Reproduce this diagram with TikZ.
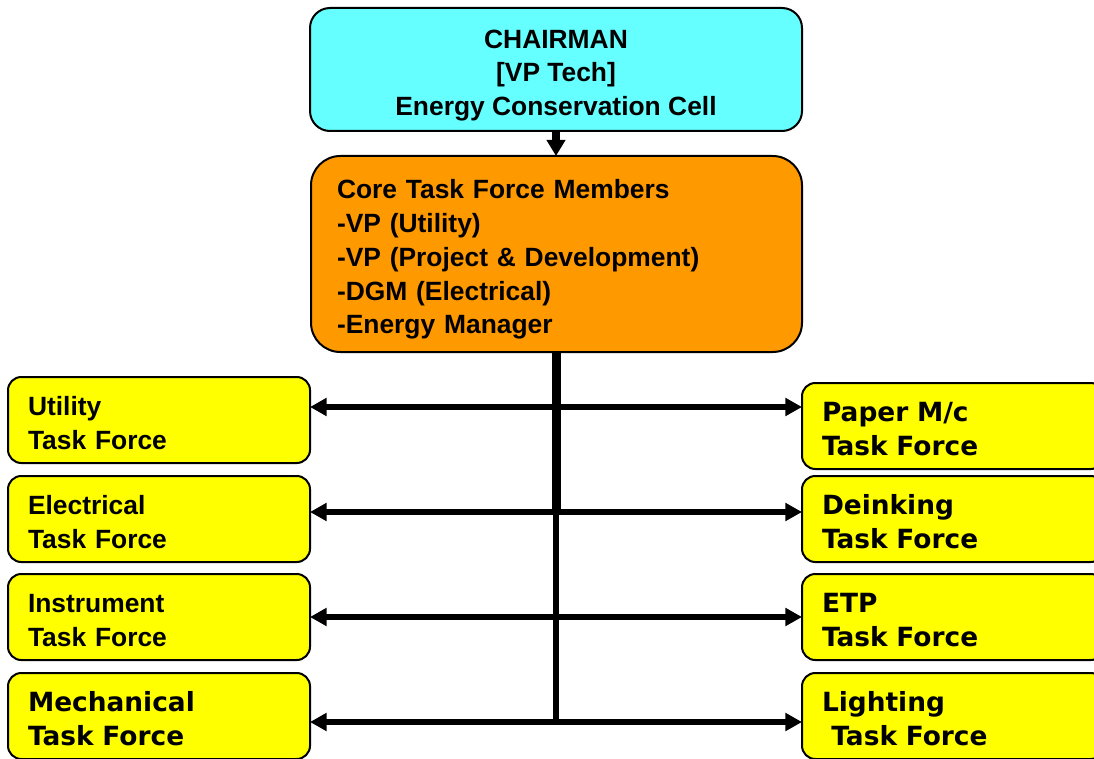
\documentclass[tikz,border=0pt]{standalone}
\usepackage{fontspec}
\setmainfont{Liberation Sans}
\newfontfamily\dvfont{DejaVu Sans}
\usetikzlibrary{arrows.meta}
\definecolor{cellcyan}{HTML}{66FFFF}
\definecolor{coreorange}{HTML}{FF9900}
\definecolor{tfyellow}{HTML}{FFFF00}
\newcommand{\myTopStrut}{\rule{0pt}{23.25pt}}
\newcommand{\myBotStrut}{\rule[-4.9pt]{0pt}{0pt}}
\begin{document}
\begin{tikzpicture}[x=0.75pt,y=-0.75pt,
  basebox/.style={draw=black, line width=1.5pt, outer sep=0pt, inner ysep=0pt, anchor=north west},
  arialtext/.style={font=\fontsize{19.8}{25.7}\selectfont\bfseries},
  dvtext/.style={font=\dvfont\fontsize{19.8}{25.7}\selectfont\bfseries},
  headbox/.style={basebox, fill=cellcyan, rounded corners=15pt, minimum width=369pt,
    minimum height=92.25pt, align=center, font=\fontsize{19.8}{25}\selectfont\bfseries},
  corebox/.style={basebox, arialtext, fill=coreorange, rounded corners=22pt, text width=329.25pt,
    inner xsep=19.5pt, minimum height=147pt, align=left, font=\fontsize{19.8}{25.4}\selectfont\bfseries},
  tfbox/.style={basebox, fill=tfyellow, rounded corners=10pt, text width=196.5pt,
    inner xsep=15pt, minimum height=64.5pt, align=left},
  link/.style={line width=4pt, -{Triangle[length=12.5pt,width=13pt]}},
  trunk/.style={line width=6.75pt},
  trunklow/.style={line width=4.5pt},
]
\useasboundingbox (0,0) rectangle (1094,759);
\clip (0,0) rectangle (1094,759);

% top boxes
\node[headbox] (chair) at (310,8)
  {\myTopStrut CHAIRMAN\\{[VP Tech]}\\Energy Conservation Cell\myBotStrut};
\node[corebox] (core) at (311,156)
  {\myTopStrut Core Task Force Members\\-VP (Utility)\\-VP (Project \& Development)\\-DGM (Electrical)\\-Energy Manager\myBotStrut};

% left task forces
\node[tfbox, arialtext] (util) at (8,377) {\myTopStrut Utility\\Task Force\myBotStrut};
\node[tfbox, arialtext] (elec) at (8,476) {\myTopStrut Electrical\\Task Force\myBotStrut};
\node[tfbox, arialtext] (inst) at (8,574) {\myTopStrut Instrument\\Task Force\myBotStrut};
\node[tfbox, dvtext] (mech) at (8,673) {\myTopStrut Mechanical\\Task Force\myBotStrut};

% right task forces
\node[tfbox, dvtext] (paper) at (802,383) {\myTopStrut Paper M/c\\Task Force\myBotStrut};
\node[tfbox, dvtext] (deink) at (802,476) {\myTopStrut Deinking\\Task Force\myBotStrut};
\node[tfbox, dvtext] (etp) at (802,574) {\myTopStrut ETP\\Task Force\myBotStrut};
\node[tfbox, dvtext] (light) at (802,673) {\myTopStrut Lighting\\\hspace*{7pt}Task Force\myBotStrut};

% junctions on the trunk
\coordinate (j1) at (556,407);
\coordinate (j2) at (556,512);
\coordinate (j3) at (556,617);
\coordinate (j4) at (556,722);

% chairman to core
\draw[line width=5.5pt, -{Triangle[length=12pt,width=13.5pt]}] (chair.south -| j1) -- (core.north -| j1);

% trunk
\draw[trunk] (core.south -| j1) -- (j2);
\draw[trunklow] (j2) -- ([yshift=-1pt]j4);

% branches
\foreach \j/\l/\r in {j1/util/paper, j2/elec/deink, j3/inst/etp, j4/mech/light}{
  \draw[link] (\j) -- (\l.east |- \j);
  \draw[link] (\j) -- (\r.west |- \j);
}
\end{tikzpicture}
\end{document}
